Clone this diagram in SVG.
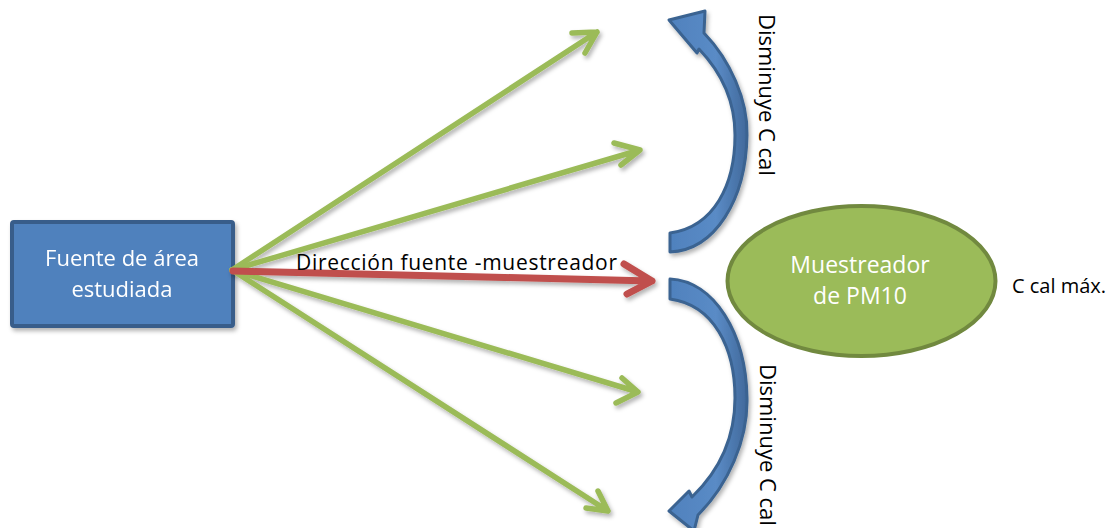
<svg xmlns="http://www.w3.org/2000/svg" width="1108" height="528" viewBox="0 0 1108 528">
<style>
.txt{font-family:"Open Sans","Liberation Sans",sans-serif;}
.white{fill:#FFFFFF;text-anchor:middle;}
.black{fill:#000000;}
.green{fill:none;stroke:#9BBB59;stroke-width:5.5;stroke-linecap:round;stroke-linejoin:round;}
.red{fill:none;stroke:#C0504D;stroke-width:7;stroke-linecap:round;stroke-linejoin:round;}
.curved{fill:url(#blueg);stroke:#3A6391;stroke-width:3;stroke-linejoin:round;}
</style>
<defs>
<filter id="sh" x="-10%" y="-10%" width="130%" height="130%">
<feDropShadow dx="2" dy="3" stdDeviation="2" flood-color="#000" flood-opacity="0.3"/>
</filter>
<linearGradient id="blueg" x1="0" y1="0" x2="1" y2="0">
<stop offset="0" stop-color="#4F81BD"/>
<stop offset="0.6" stop-color="#5A8BC6"/>
<stop offset="1" stop-color="#41699B"/>
</linearGradient>
</defs>
<rect width="1108" height="528" fill="#FFFFFF"/>
<g id="fuente" filter="url(#sh)">
<rect x="12" y="222" width="221" height="104" rx="2" fill="#4F81BD" stroke="#385D8A" stroke-width="4"/>
<text class="txt white" x="122" y="266" font-size="22">Fuente de área</text>
<text class="txt white" x="122" y="297" font-size="22">estudiada</text>
</g>
<g id="muestreador">
<ellipse cx="861.5" cy="281" rx="134" ry="75" fill="#9BBB59" stroke="#71893F" stroke-width="4"/>
<text class="txt white" x="860" y="273" font-size="23">Muestreador</text>
<text class="txt white" x="860" y="304" font-size="23">de PM10</text>
</g>
<g id="connectors" filter="url(#sh)">
<path class="green" d="M232,270 L597,32 M572,33 L597,32 L585,53"/>
<path class="green" d="M232,270 L640,150 M614,143 L640,150 L621,165"/>
<path class="green" d="M232,270 L638,392 M622,378 L638,392 L616,403"/>
<path class="green" d="M232,270 L608,511 M598,491 L608,511 L586,508"/>
<path class="red" d="M233,271 L652,281 M624,264 L652,281 L627,294"/>
</g>
<g id="curved-top" filter="url(#sh)">
<path class="curved" d="M670,233 C714,227 735,185 735,135 C735,100 721,72 699,49 L697,53 L669,20 L705,11 L704,33 C730,60 748,100 747,135 C746,200 715,250 670,252 Z"/>
</g>
<g id="curved-bottom" filter="url(#sh)">
<path class="curved" d="M670,299 C714,305 735,348 735,398 C735,440 718,472 692,497 L689,491 L669,511 L694,531 L698,515 C728,485 748,440 747,398 C746,333 714,281 670,279 Z"/>
</g>
<g id="labels">
<text class="txt black" x="296" y="270" font-size="21" textLength="321" lengthAdjust="spacing">Dirección fuente -muestreador</text>
<text class="txt black" x="1012" y="293" font-size="20">C cal máx.</text>
<text class="txt black" font-size="22" transform="translate(759,14) rotate(90)">Disminuye C cal</text>
<text class="txt black" font-size="22" transform="translate(760,364) rotate(90)">Disminuye C cal</text>
</g>
</svg>
